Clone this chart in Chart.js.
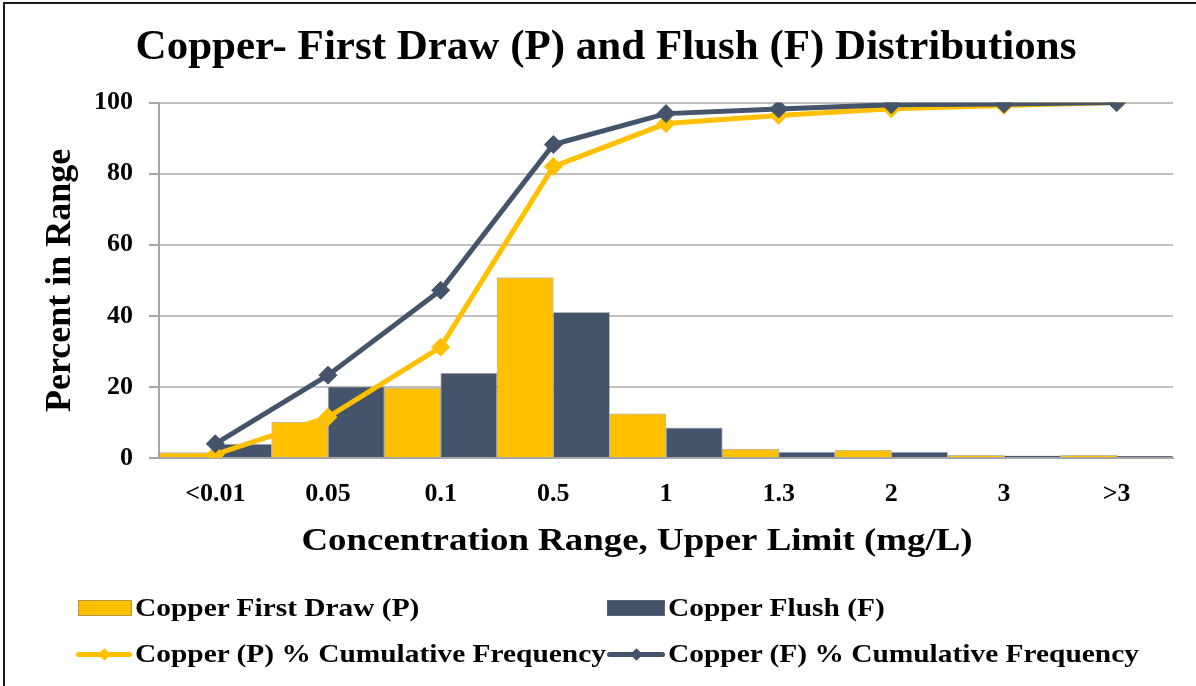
<!DOCTYPE html>
<html>
<head>
<meta charset="utf-8">
<script src="https://cdn.jsdelivr.net/npm/chart.js@4.4.1/dist/chart.umd.min.js"></script>
<style>
  html, body { margin: 0; padding: 0; background: #fff; }
  #wrap { position: relative; width: 1196px; height: 686px; overflow: hidden; background: #fff; }
  #frame { position: absolute; left: 3px; top: 2px; width: 1300px; height: 800px; border: 2px solid #1a1a1a; box-sizing: border-box; }
  #chart { position: absolute; left: 0; top: 0; }
  .legend { position: absolute; left: 0; top: 0; width: 1196px; height: 686px; pointer-events: none;
            font-family: "Liberation Serif", "Times New Roman", serif; font-weight: bold; font-size: 24.5px; color: #000; }
  .item { position: absolute; display: flex; align-items: center; height: 30px; white-space: nowrap; }
  .item span { display: inline-block; transform: scaleX(1.2); transform-origin: left center; }
  .sw-bar { height: 16px; box-sizing: border-box; border: 1px solid rgba(120,120,120,0.55); margin-right: 3px; }
  .sw-line { position: relative; height: 16px; margin-right: 3px; }
  .sw-line .ln { position: absolute; left: 0; right: 0; top: 50%; height: 5px; margin-top: -2.5px; border-radius: 2.5px; }
  .sw-line .dm { position: absolute; left: 50%; top: 50%; width: 9px; height: 9px; margin: -4.5px 0 0 -4.5px; transform: rotate(45deg); }
</style>
</head>
<body>
<div id="wrap">
  <div id="frame"></div>
  <canvas id="chart" width="1196" height="686"></canvas>
  <div class="legend" id="legend"></div>
</div>
<script>
// Concentration ranges (upper limit, mg/L)
const categories = ['<0.01', '0.05', '0.1', '0.5', '1', '1.3', '2', '3', '>3'];

// Percent of samples falling in each range
const firstDrawPct = [1.5, 10.1, 19.7, 50.8, 12.4, 2.5, 2.2, 0.8, 0.8];
const flushPct     = [3.9, 20.0, 23.9, 41.0, 8.5, 1.7, 1.7, 0.6, 0.5];

// Cumulative frequency (%)
const firstDrawCum = [1.0, 11.5, 31.2, 82.0, 94.1, 96.4, 98.3, 99.2, 100];
const flushCum     = [4.0, 23.3, 47.2, 88.2, 96.9, 98.2, 99.4, 99.6, 100];

// Value axis ticks
const yTicks = [0, 20, 40, 60, 80, 100];

const seriesNames = [
  'Copper First Draw (P)',
  'Copper Flush (F)',
  'Copper (P) % Cumulative Frequency',
  'Copper (F) % Cumulative Frequency'
];

const GOLD = '#FFC000';
const SLATE = '#44546A';
const FONT = '"Liberation Serif", "Times New Roman", serif';

const datasets = [
  {
    type: 'bar', label: seriesNames[0], data: firstDrawPct,
    backgroundColor: GOLD, borderColor: 'rgba(130,130,130,0.55)', borderWidth: 1,
    categoryPercentage: 1, barPercentage: 1, order: 3
  },
  {
    type: 'bar', label: seriesNames[1], data: flushPct,
    backgroundColor: SLATE, borderColor: 'rgba(130,130,130,0.55)', borderWidth: 1,
    categoryPercentage: 1, barPercentage: 1, order: 3
  },
  {
    type: 'line', label: seriesNames[2], data: firstDrawCum,
    borderColor: GOLD, borderWidth: 5, tension: 0,
    pointStyle: 'rectRot', pointRadius: 9, pointBackgroundColor: GOLD,
    pointBorderColor: GOLD, pointBorderWidth: 1, order: 1
  },
  {
    type: 'line', label: seriesNames[3], data: flushCum,
    borderColor: SLATE, borderWidth: 5, tension: 0,
    pointStyle: 'rectRot', pointRadius: 9, pointBackgroundColor: SLATE,
    pointBorderColor: SLATE, pointBorderWidth: 1, order: 0
  }
];

// Category-axis title: widened lettering, centred a little left of the plot centre
const X_TITLE_SHIFT = -29;
const X_TITLE_STRETCH = 1.19;
const xTitleStyle = {
  id: 'xTitleStyle',
  beforeDraw(chart) {
    const xs = chart.scales.x;
    if (!xs || xs._styled) return;
    const orig = xs.drawTitle.bind(xs);
    xs.drawTitle = function () {
      const ctx = chart.ctx;
      const cx = (xs.left + xs.right) / 2;
      ctx.save();
      ctx.translate(cx + X_TITLE_SHIFT, 0);
      ctx.scale(X_TITLE_STRETCH, 1);
      ctx.translate(-cx, 0);
      orig();
      ctx.restore();
    };
    xs._styled = true;
  }
};

new Chart(document.getElementById('chart'), {
  data: { labels: categories, datasets: datasets },
  plugins: [xTitleStyle],
  options: {
    responsive: false,
    animation: false,
    layout: { padding: { left: 16, right: 0, top: 0, bottom: 125 } },
    plugins: {
      legend: { display: false },
      tooltip: { enabled: false },
      title: {
        display: true,
        text: 'Copper- First Draw (P) and Flush (F) Distributions',
        color: '#000',
        font: { family: FONT, size: 43, weight: 'bold' },
        padding: { top: 22, bottom: 29 }
      }
    },
    scales: {
      x: {
        type: 'category',
        offset: true,
        grid: { display: false },
        border: { display: true, color: '#a6a6a6', width: 2 },
        ticks: {
          color: '#000', padding: 13, maxRotation: 0, autoSkip: false,
          font: { family: FONT, size: 26, weight: 'bold' }
        },
        title: {
          display: true,
          text: 'Concentration Range, Upper Limit (mg/L)',
          color: '#000',
          font: { family: FONT, size: 31, weight: 'bold' },
          padding: { top: 0, bottom: 0 }
        },
        afterFit: (s) => { s.height = 103; }
      },
      y: {
        min: 0, max: 100,
        afterBuildTicks: (s) => { s.ticks = yTicks.map(v => ({ value: v })); },
        grid: { color: '#c0c0c0', lineWidth: 2, tickLength: 10, tickColor: '#a6a6a6', drawTicks: true },
        border: { color: '#a6a6a6', width: 2 },
        ticks: {
          color: '#000', padding: 16,
          font: { family: FONT, size: 26, weight: 'bold' }
        },
        title: {
          display: true,
          text: 'Percent in Range',
          color: '#000',
          font: { family: FONT, size: 36, weight: 'bold' },
          padding: { top: 23, bottom: 0 }
        },
        afterFit: (s) => { s.width = 143; }
      },
      yRight: {
        position: 'right',
        display: true,
        grid: { display: false },
        border: { display: false },
        ticks: { display: false },
        afterFit: (s) => { s.width = 23; }
      }
    }
  }
});

// Legend laid out in two aligned columns
const legendItems = [
  { kind: 'bar',  color: GOLD,  text: seriesNames[0], left: 78,  cy: 608, w: 54 },
  { kind: 'bar',  color: SLATE, text: seriesNames[1], left: 607, cy: 608, w: 58 },
  { kind: 'line', color: GOLD,  text: seriesNames[2], left: 76,  cy: 654, w: 56 },
  { kind: 'line', color: SLATE, text: seriesNames[3], left: 607, cy: 654, w: 58 }
];
const legendEl = document.getElementById('legend');
legendItems.forEach(it => {
  const row = document.createElement('div');
  row.className = 'item';
  row.style.left = it.left + 'px';
  row.style.top = (it.cy - 15) + 'px';
  const sw = document.createElement('div');
  if (it.kind === 'bar') {
    sw.className = 'sw-bar';
    sw.style.background = it.color;
  } else {
    sw.className = 'sw-line';
    const ln = document.createElement('div'); ln.className = 'ln'; ln.style.background = it.color;
    const dm = document.createElement('div'); dm.className = 'dm'; dm.style.background = it.color;
    sw.appendChild(ln); sw.appendChild(dm);
  }
  sw.style.width = it.w + 'px';
  const label = document.createElement('span');
  label.textContent = it.text;
  row.appendChild(sw);
  row.appendChild(label);
  legendEl.appendChild(row);
});
</script>
</body>
</html>
